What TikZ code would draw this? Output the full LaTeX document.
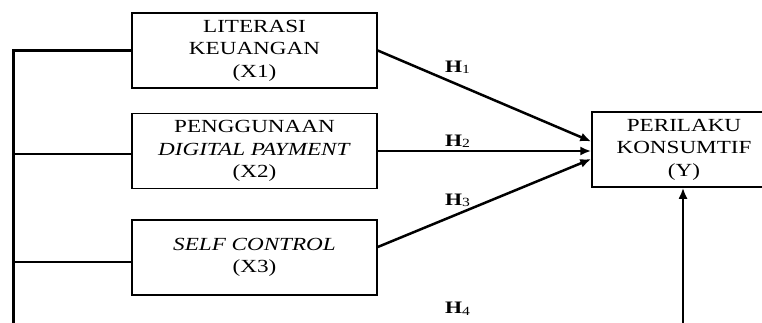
\documentclass[tikz,border=0pt]{standalone}
\usepackage{fontspec}
\setmainfont{Liberation Serif}[FakeStretch=1.25]
\usetikzlibrary{arrows.meta}
\newcommand{\hyp}[1]{\textbf{H}{\fontsize{12.5}{12.5}\selectfont\raisebox{-1.5pt}{#1}}}
\begin{document}
\begin{tikzpicture}[x=1pt,y=-1pt,
  varbox/.style={draw, line width=1.5pt, minimum width=245pt, minimum height=75pt,
    inner sep=0pt, align=center, font=\fontsize{18.5}{22.5}\selectfont},
  trunk/.style={line width=3pt},
  branch/.style={line width=2.2pt},
  arr/.style={line width=2.5pt, -{Latex[length=11pt,width=9pt]}},
  hlab/.style={font=\fontsize{17.5}{20}\selectfont, anchor=base west, inner sep=0pt}]
\useasboundingbox (0,0) rectangle (762,323);
\node[varbox] (x1) at (254.5,50.5) {LITERASI\\KEUANGAN\\(X1)};
\node[varbox] (x2) at (254.5,151) {PENGGUNAAN\\\textit{DIGITAL PAYMENT}\\(X2)};
\node[varbox] (x3) at (254.5,257.5) {\textit{SELF CONTROL}\\(X3)};
\node[varbox, minimum width=184pt] (y) at (684,149.5) {PERILAKU\\KONSUMTIF\\(Y)};
\coordinate (bot) at (13,323);
\coordinate (ybot) at (683,323);
% left trunk and branches
\draw[trunk] ([yshift=1.1pt]x1.west -| bot) -- (bot);
\draw[branch] (x1.west) -- (x1.west -| bot);
\draw[branch] ([yshift=-3pt]x2.west) -- ([yshift=-3pt]x2.west -| bot);
\draw[branch] ([yshift=-4.5pt]x3.west) -- ([yshift=-4.5pt]x3.west -| bot);
% hypotheses arrows
\draw[arr] (x1.east) -- ([yshift=8pt]y.west);
\draw[arr] (x2.east) -- ([yshift=-1.5pt]y.west);
\draw[arr] ([yshift=10.5pt]x3.east) -- ([yshift=-9.5pt]y.west);
\draw[arr] (ybot) -- (y.south -| ybot);
% labels
\node[hlab] (h1) at (445,72.5) {\hyp{1}};
\node[hlab] (h2) at (445,146.5) {\hyp{2}};
\node[hlab] (h3) at (445,205) {\hyp{3}};
\node[hlab] (h4) at (445,313.5) {\hyp{4}};
\end{tikzpicture}
\end{document}
